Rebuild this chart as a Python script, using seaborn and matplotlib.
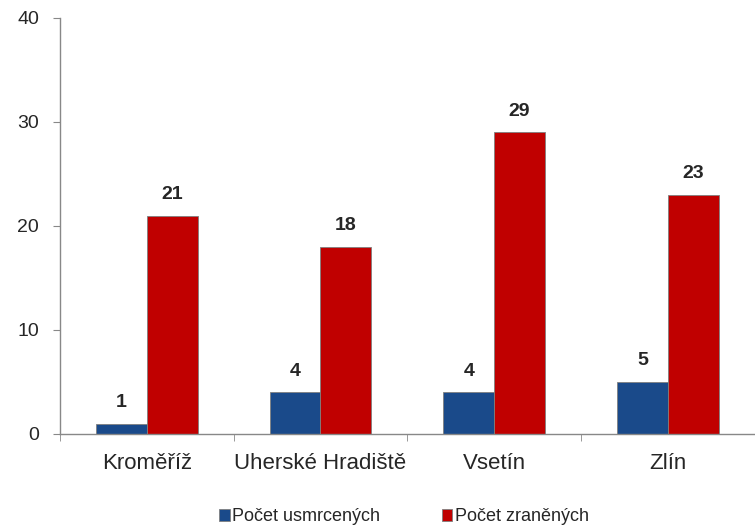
import pandas as pd
import seaborn as sns
import matplotlib.pyplot as plt
from matplotlib.ticker import FixedLocator

okresy = ["Kroměříž", "Uherské Hradiště", "Vsetín", "Zlín"]
usmrceni = [1, 4, 4, 5]
zraneni = [21, 18, 29, 23]
serie = ["Počet usmrcených", "Počet zraněných"]
barvy = ["#1a4a8a", "#c00000"]

df = pd.DataFrame({
    "okres": okresy * 2,
    "pocet": usmrceni + zraneni,
    "serie": [serie[0]] * 4 + [serie[1]] * 4,
})

sns.set_style("white")
plt.rcParams["font.family"] = ["Liberation Sans", "DejaVu Sans"]

fig = plt.figure(figsize=(7.55, 5.29), dpi=100)
ax = fig.add_axes([0.0795, 0.1796, 0.92, 0.7864])

sns.barplot(data=df, x="okres", y="pocet", hue="serie", palette=barvy, saturation=1,
            width=0.586, edgecolor="#7f7f7f", linewidth=0.6, ax=ax, legend=True)

for cont in ax.containers:
    ax.bar_label(cont, padding=9, fontsize=14, fontweight="bold")

ax.set_ylim(0, 40)
ax.set_xlim(-0.5, 3.5)
ax.set_yticks([0, 10, 20, 30, 40])
ax.set_xlabel("")
ax.set_ylabel("")
ax.tick_params(axis="y", labelsize=14, length=5, color="#888888", direction="out", left=True, pad=10)
ax.tick_params(axis="x", labelsize=16, length=0, pad=14)
ax.xaxis.set_minor_locator(FixedLocator([-0.5, 0.5, 1.5, 2.5, 3.5]))
ax.tick_params(axis="x", which="minor", length=5, color="#888888", bottom=True, direction="out")

for s in ["top", "right"]:
    ax.spines[s].set_visible(False)
for s in ["left", "bottom"]:
    ax.spines[s].set_color("#888888")
    ax.spines[s].set_linewidth(1)

h, l = ax.get_legend_handles_labels()
ax.get_legend().remove()
fig.legend(h, l, loc="lower center", bbox_to_anchor=(0.535, -0.024), ncol=2, frameon=False,
           fontsize=13, handlelength=0.6, handleheight=0.6, handletextpad=0.15, columnspacing=3.4)

fig.savefig("out.png", dpi=100)
